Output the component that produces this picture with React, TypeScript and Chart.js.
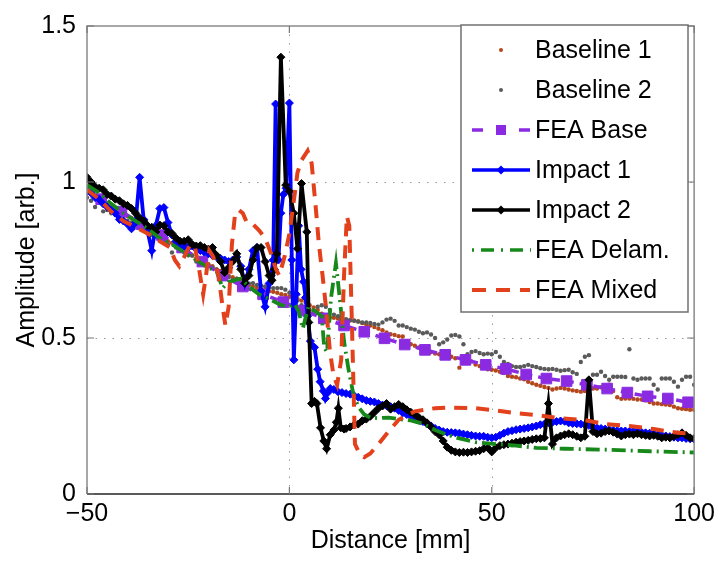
import React, { useEffect, useRef } from 'react';
import { Chart, registerables } from 'chart.js';

Chart.register(...registerables);

const FONT = '"Liberation Sans", Arial, Helvetica, sans-serif';
const FONT_SIZE = 25;

const xTicks = [-50, 0, 50, 100];
const yTicks = [0, 0.5, 1, 1.5];
const xGrid = [0, 50];
const yGrid = [0.5, 1];
const xTitle = 'Distance [mm]';
const yTitle = 'Amplitude [arb.]';

const seriesNames = ['Baseline 1', 'Baseline 2', 'FEA Base', 'Impact 1', 'Impact 2', 'FEA Delam.', 'FEA Mixed'];
const seriesColors = ['#b5471c', '#5a5a5a', '#8a2be2', '#0000ff', '#000000', '#17891a', '#e3401c'];

const baselineX = [
  -50, -49, -48, -47, -46, -45, -44, -43, -42, -41,
  -40, -39, -38, -37, -36, -35, -34, -33, -32, -31,
  -30, -29, -28, -27, -26, -25, -24, -23, -22, -21,
  -20, -19, -18, -17, -16, -15, -14, -13, -12, -11,
  -10, -9, -8, -7, -6, -5, -4, -3, -2, -1,
  0, 1, 2, 3, 4, 5, 6, 7, 8, 9,
  10, 11, 12, 13, 14, 15, 16, 17, 18, 19,
  20, 21, 22, 23, 24, 25, 26, 27, 28, 29,
  30, 31, 32, 33, 34, 35, 36, 37, 38, 39,
  40, 41, 42, 43, 44, 45, 46, 47, 48, 49,
  50, 51, 52, 53, 54, 55, 56, 57, 58, 59,
  60, 61, 62, 63, 64, 65, 66, 67, 68, 69,
  70, 71, 72, 73, 74, 75, 76, 77, 78, 79,
  80, 81, 82, 83, 84, 85, 86, 87, 88, 89,
  90, 91, 92, 93, 94, 95, 96, 97, 98, 99,
  100,
];

const baseline1Y = [
  0.97, 0.965, 0.955, 0.95, 0.94, 0.93, 0.925, 0.915, 0.905, 0.9,
  0.89, 0.885, 0.875, 0.87, 0.86, 0.85, 0.845, 0.835, 0.83, 0.82,
  0.81, 0.805, 0.795, 0.79, 0.78, 0.77, 0.765, 0.755, 0.75, 0.74,
  0.735, 0.73, 0.72, 0.715, 0.71, 0.7, 0.695, 0.69, 0.685, 0.675,
  0.67, 0.665, 0.66, 0.655, 0.655, 0.65, 0.648, 0.645, 0.64, 0.638,
  0.632, 0.628, 0.625, 0.62, 0.615, 0.605, 0.598, 0.59, 0.578, 0.572,
  0.565, 0.565, 0.562, 0.56, 0.558, 0.556, 0.556, 0.553, 0.548, 0.544,
  0.54, 0.535, 0.53, 0.525, 0.518, 0.512, 0.51, 0.506, 0.505, 0.49,
  0.48, 0.475, 0.47, 0.465, 0.46, 0.455, 0.45, 0.448, 0.448, 0.445,
  0.44, 0.435, 0.405, 0.43, 0.43, 0.425, 0.415, 0.41, 0.405, 0.4,
  0.398, 0.396, 0.392, 0.388, 0.378, 0.376, 0.374, 0.37, 0.368, 0.36,
  0.355, 0.35, 0.347, 0.343, 0.34, 0.335, 0.338, 0.34, 0.338, 0.335,
  0.332, 0.33, 0.328, 0.33, 0.335, 0.338, 0.338, 0.342, 0.346, 0.35,
  0.33, 0.31, 0.305, 0.306, 0.306, 0.305, 0.303, 0.303, 0.3, 0.295,
  0.29, 0.29, 0.288, 0.287, 0.285, 0.28, 0.275, 0.273, 0.272, 0.27,
  0.27,
];

const baseline2Y = [
  0.95, 0.94, 0.92, 0.935, 0.906, 0.91, 0.9, 0.895, 0.887, 0.88,
  0.875, 0.87, 0.86, 0.855, 0.845, 0.84, 0.83, 0.825, 0.82, 0.81,
  0.8, 0.774, 0.79, 0.78, 0.775, 0.765, 0.764, 0.745, 0.75, 0.74,
  0.735, 0.725, 0.72, 0.71, 0.7, 0.695, 0.685, 0.69, 0.68, 0.678,
  0.675, 0.676, 0.67, 0.668, 0.665, 0.662, 0.66, 0.66, 0.66, 0.655,
  0.645, 0.635, 0.62, 0.605, 0.595, 0.59, 0.587, 0.6, 0.605, 0.6,
  0.59, 0.575, 0.57, 0.565, 0.56, 0.558, 0.555, 0.553, 0.55, 0.55,
  0.548, 0.545, 0.543, 0.55, 0.559, 0.562, 0.555, 0.54, 0.54, 0.535,
  0.53, 0.527, 0.52, 0.515, 0.518, 0.511, 0.5, 0.48, 0.486, 0.495,
  0.508, 0.51, 0.505, 0.48, 0.448, 0.455, 0.458, 0.452, 0.448, 0.45,
  0.448, 0.455, 0.44, 0.423, 0.417, 0.41, 0.407, 0.407, 0.41, 0.414,
  0.41, 0.407, 0.403, 0.401, 0.4, 0.401, 0.398, 0.395, 0.397, 0.398,
  0.39, 0.385, 0.423, 0.44, 0.445, 0.382, 0.382, 0.392, 0.378, 0.366,
  0.376, 0.376, 0.376, 0.375, 0.464, 0.37, 0.366, 0.37, 0.37, 0.37,
  0.35, 0.335, 0.37, 0.37, 0.37, 0.36, 0.344, 0.366, 0.376, 0.376,
  0.35,
];

const feaBaseX = [
  -46.5, -41.5, -36.5, -31.5, -26.5, -21.5, -16.5, -11.5, -6.5, -1.5,
  3.5, 8.5, 13.5, 18.5, 23.5, 28.5, 33.5, 38.5, 43.5, 48.5,
  53.5, 58.5, 63.5, 68.5, 73.5, 78.5, 83.5, 88.5, 93.5, 98.5,
];
const feaBaseY = [
  0.945, 0.905, 0.865, 0.83, 0.79, 0.745, 0.7, 0.665, 0.64, 0.615,
  0.588, 0.563, 0.54, 0.52, 0.499, 0.479, 0.462, 0.446, 0.43, 0.414,
  0.401, 0.383, 0.37, 0.362, 0.35, 0.338, 0.325, 0.313, 0.306, 0.294,
];

const impact1X = [
  -50, -49, -48, -47, -46, -45, -44, -43, -42, -41,
  -40, -39, -38, -37, -36, -35, -34, -33, -32, -31,
  -30, -29, -28, -27, -26, -25, -24, -23, -22, -21,
  -20, -19, -18, -17, -16, -15, -14, -13, -12, -11,
  -10, -9, -8, -7, -6, -5,
  -4.5, -4, -3.4, -2.7, -2.1, -1.5, -0.8, 0, 0.6, 1.1,
  1.7, 2.3, 2.9, 3.5, 4, 4.5, 5.2, 6.2, 7, 7.6,
  8.4, 8.9, 9.5, 10.1, 11, 12, 13,
  14, 15, 16, 17, 18, 19, 20, 21, 22, 23,
  24, 25, 26, 27, 28, 29, 30, 31, 32, 33,
  34, 35, 36, 37, 38, 39, 40, 41, 42, 43,
  44, 45, 46, 47, 48, 49, 50, 51, 52, 53,
  54, 55, 56, 57, 58, 59, 60, 61, 62, 63,
  64, 65, 66, 67, 68, 69, 70, 71, 72, 73,
  74, 75, 76, 77, 78, 79, 80, 81, 82, 83,
  84, 85, 86, 87, 88, 89, 90, 91, 92, 93,
  94, 95, 96, 97, 98, 99, 100,
];
const impact1Y = [
  0.97, 0.965, 0.95, 0.945, 0.93, 0.92, 0.91, 0.9, 0.88, 0.875,
  0.865, 0.85, 0.87, 1.015, 0.88, 0.84, 0.78, 0.86, 0.915, 0.918,
  0.87, 0.83, 0.81, 0.8, 0.795, 0.79, 0.795, 0.785, 0.78, 0.775,
  0.77, 0.765, 0.76, 0.755, 0.75, 0.745, 0.75, 0.76, 0.73, 0.675,
  0.72, 0.78, 0.79, 0.65, 0.6, 0.675,
  0.7, 0.75, 1.25, 0.75, 0.9, 0.96, 0.98, 1.253, 0.75, 0.43,
  0.64, 0.86, 0.72, 0.68, 0.63, 0.57, 0.49, 0.47, 0.4, 0.36,
  0.33, 0.306, 0.325, 0.338, 0.335, 0.328, 0.325,
  0.322, 0.32, 0.315, 0.31, 0.305, 0.3, 0.297, 0.295, 0.29, 0.285,
  0.283, 0.28, 0.275, 0.268, 0.26, 0.255, 0.25, 0.245, 0.24, 0.232,
  0.225, 0.218, 0.21, 0.205, 0.2, 0.198, 0.197, 0.196, 0.195, 0.192,
  0.19, 0.188, 0.186, 0.185, 0.185, 0.182, 0.18, 0.182, 0.188, 0.195,
  0.2, 0.203, 0.206, 0.208, 0.21, 0.212, 0.215, 0.218, 0.222, 0.224,
  0.228, 0.23, 0.232, 0.234, 0.233, 0.228, 0.226, 0.225, 0.224, 0.222,
  0.22, 0.215, 0.212, 0.21, 0.208, 0.206, 0.204, 0.203, 0.202, 0.202,
  0.2, 0.202, 0.2, 0.198, 0.196, 0.195, 0.193, 0.19, 0.188, 0.186,
  0.184, 0.182, 0.18, 0.18, 0.178, 0.177, 0.176,
];

const impact2X = [
  -50, -49, -48, -47, -46, -45, -44, -43, -42, -41,
  -40, -39, -38, -37, -36, -35, -34, -33, -32, -31,
  -30, -29, -28, -27, -26, -25, -24, -23, -22, -21,
  -20, -19, -18, -17, -16, -15, -14, -13, -12, -11,
  -10, -9, -8, -7, -6, -5,
  -4.3, -3.7, -3.1, -2.1, -0.9, 0, 1.1, 2, 3, 4.3,
  4.8, 5.5, 6.2, 6.8, 7.7, 8.5, 9.2, 10.1, 11, 11.6,
  12.1, 12.7, 13.5,
  14, 15, 16, 17, 18, 19, 20, 21, 22, 23,
  24, 25, 26, 27, 28, 29, 30, 31, 32, 33,
  34, 35, 36, 37, 38, 39, 40, 41, 42, 43,
  44, 45, 46, 47, 48, 49, 50, 51, 52, 53,
  54, 55, 56, 57, 58, 59, 60, 61, 62, 63,
  64, 65, 66, 67, 68, 69, 70, 71, 72, 73,
  74, 75, 76, 77, 78, 79, 80, 81, 82, 83,
  84, 85, 86, 87, 88, 89, 90, 91, 92, 93,
  94, 95, 96, 97, 98, 99, 100,
];
const impact2Y = [
  1.015, 1.0, 0.985, 0.98, 0.975, 0.96, 0.955, 0.945, 0.94, 0.93,
  0.925, 0.915, 0.9, 0.885, 0.875, 0.86, 0.855, 0.84, 0.862, 0.86,
  0.84, 0.835, 0.82, 0.81, 0.81, 0.815, 0.8, 0.795, 0.796, 0.79,
  0.785, 0.79, 0.765, 0.745, 0.71, 0.725, 0.745, 0.77, 0.72, 0.676,
  0.7, 0.75, 0.79, 0.79, 0.745, 0.7,
  0.685, 0.72, 0.77, 1.4, 0.99, 0.97, 0.9, 0.786, 0.995, 0.84,
  0.55, 0.29, 0.297, 0.29, 0.212, 0.17, 0.145, 0.19, 0.205, 0.23,
  0.275, 0.212, 0.208,
  0.21, 0.215, 0.222, 0.224, 0.235, 0.24, 0.249, 0.262, 0.275, 0.282,
  0.29, 0.272, 0.28, 0.287, 0.28, 0.27, 0.262, 0.255, 0.245, 0.238,
  0.228, 0.215, 0.2, 0.19, 0.17, 0.15, 0.14, 0.135, 0.133, 0.134,
  0.133, 0.135, 0.137, 0.139, 0.145, 0.148, 0.135, 0.148, 0.155, 0.158,
  0.16, 0.163, 0.166, 0.168, 0.17, 0.172, 0.175, 0.177, 0.178, 0.18,
  0.29, 0.16, 0.18, 0.186, 0.19, 0.193, 0.19, 0.185, 0.18, 0.185,
  0.366, 0.2, 0.193, 0.195, 0.2, 0.202, 0.198, 0.192, 0.186, 0.19,
  0.192, 0.19, 0.193, 0.19, 0.188, 0.186, 0.188, 0.185, 0.18, 0.182,
  0.18, 0.185, 0.19, 0.196, 0.188, 0.18, 0.178,
];

const feaDelamX = [
  -50, -47, -44, -41, -38, -35, -32, -29, -26, -23,
  -20, -18, -16.5, -15, -12, -10, -7.5, -5, -2, 0,
  1.2, 2.3, 3.3, 4.7, 6.5, 8, 8.6, 9.3, 10.3, 11.5,
  12.5, 13.5, 14.6, 15.8, 17, 18.5, 20, 22, 24.5, 27,
  30, 33, 36, 39, 42, 46, 51, 56, 61, 68,
  78, 89, 100,
];
const feaDelamY = [
  0.99, 0.965, 0.93, 0.9, 0.875, 0.85, 0.82, 0.8, 0.775, 0.75,
  0.725, 0.715, 0.66, 0.68, 0.69, 0.665, 0.64, 0.625, 0.605, 0.6,
  0.61, 0.585, 0.53, 0.6, 0.585, 0.57, 0.47, 0.455, 0.63, 0.74,
  0.62, 0.49, 0.4, 0.32, 0.28, 0.255, 0.245, 0.243, 0.245, 0.24,
  0.236, 0.225, 0.205, 0.19, 0.178, 0.166, 0.16, 0.155, 0.148, 0.145,
  0.142, 0.137, 0.133,
];

const feaMixedX = [
  -50, -47, -44, -41, -38, -35, -32,
  -29.5, -28.3, -27.2, -26, -24.5, -23.3, -22.3, -21.3, -20.6, -19.8,
  -18.8, -17.5, -16.5, -15.8, -15, -14.2, -13.4, -12.5, -11.5, -10.5,
  -9, -7.5, -6, -4.5, -3.3, -2.5, -1.2, 0, 1, 2,
  3, 4.5, 5.5, 6.5, 7.3, 8.2, 9.2, 10, 10.9, 11.8,
  12.8, 13.5, 14.2, 14.8, 15.5, 16.2, 17.5, 18.5, 20, 22,
  24.5, 27, 31, 36, 40, 46, 51, 56, 61, 67,
  73, 78, 84, 90, 96, 100,
];
const feaMixedY = [
  0.975, 0.945, 0.905, 0.875, 0.855, 0.835, 0.81,
  0.79, 0.75, 0.73, 0.76, 0.8, 0.79, 0.72, 0.64, 0.7, 0.78,
  0.76, 0.7, 0.6, 0.54, 0.6, 0.8, 0.9, 0.91, 0.9, 0.87,
  0.865, 0.845, 0.82, 0.77, 0.72, 0.7, 0.76, 0.834, 0.93, 1.03,
  1.07, 1.1, 1.06, 0.92, 0.8, 0.7, 0.58, 0.46, 0.38, 0.35,
  0.43, 0.7, 0.89, 0.86, 0.52, 0.16, 0.125, 0.118, 0.13, 0.16,
  0.2, 0.238, 0.265, 0.275, 0.277, 0.275, 0.268, 0.259, 0.253, 0.243,
  0.237, 0.224, 0.218, 0.208, 0.196, 0.193,
];

const pts = (xs: number[], ys: number[]) => xs.map((x, i) => ({ x, y: ys[i] }));

const frameAndLegend = {
  id: 'frameAndLegend',
  beforeDatasetsDraw(chart: any) {
    const { ctx, chartArea: a, scales } = chart;
    const sx = scales.x;
    const sy = scales.y;
    ctx.save();
    ctx.strokeStyle = '#9a9a9a';
    ctx.lineWidth = 1;
    ctx.setLineDash([1.5, 7]);
    xGrid.forEach((v) => {
      const p = Math.round(sx.getPixelForValue(v)) + 0.5;
      ctx.beginPath();
      ctx.moveTo(p, a.top);
      ctx.lineTo(p, a.bottom);
      ctx.stroke();
    });
    yGrid.forEach((v) => {
      const p = Math.round(sy.getPixelForValue(v)) + 0.5;
      ctx.beginPath();
      ctx.moveTo(a.left, p);
      ctx.lineTo(a.right, p);
      ctx.stroke();
    });
    ctx.restore();
  },
  afterDatasetsDraw(chart: any) {
    const { ctx, chartArea: a, scales } = chart;
    const sx = scales.x;
    const sy = scales.y;
    ctx.save();
    ctx.setLineDash([]);
    ctx.lineWidth = 1.5;
    ctx.strokeStyle = '#8a8a8a';
    ctx.beginPath();
    ctx.moveTo(a.left, a.bottom);
    ctx.lineTo(a.left, a.top);
    ctx.lineTo(a.right, a.top);
    ctx.lineTo(a.right, a.bottom);
    ctx.stroke();
    ctx.strokeStyle = '#222222';
    ctx.beginPath();
    ctx.moveTo(a.left, a.bottom);
    ctx.lineTo(a.right, a.bottom);
    ctx.stroke();
    ctx.strokeStyle = '#777777';
    ctx.lineWidth = 1.2;
    const tl = 7;
    xTicks.forEach((v) => {
      const p = sx.getPixelForValue(v);
      ctx.beginPath();
      ctx.moveTo(p, a.bottom);
      ctx.lineTo(p, a.bottom - tl);
      ctx.moveTo(p, a.top);
      ctx.lineTo(p, a.top + tl);
      ctx.stroke();
    });
    yTicks.forEach((v) => {
      const p = sy.getPixelForValue(v);
      ctx.beginPath();
      ctx.moveTo(a.left, p);
      ctx.lineTo(a.left + tl, p);
      ctx.moveTo(a.right, p);
      ctx.lineTo(a.right - tl, p);
      ctx.stroke();
    });

    const L = { left: 461, top: 25, right: 688, bottom: 312 };
    ctx.fillStyle = '#ffffff';
    ctx.fillRect(L.left, L.top, L.right - L.left, L.bottom - L.top);
    ctx.strokeStyle = '#707070';
    ctx.lineWidth = 1.5;
    ctx.strokeRect(L.left, L.top, L.right - L.left, L.bottom - L.top);

    const x0 = 472;
    const x1 = 530;
    const xm = 501;
    const textX = 535;
    ctx.font = FONT_SIZE + 'px ' + FONT;
    ctx.textBaseline = 'middle';
    ctx.textAlign = 'left';
    seriesNames.forEach((name, i) => {
      const y = 50 + i * 40;
      const c = seriesColors[i];
      ctx.save();
      ctx.strokeStyle = c;
      ctx.fillStyle = c;
      if (i === 0 || i === 1) {
        ctx.beginPath();
        ctx.arc(xm, y, 2, 0, Math.PI * 2);
        ctx.fill();
      } else if (i === 2) {
        ctx.lineWidth = 3.5;
        ctx.beginPath();
        ctx.moveTo(x0, y);
        ctx.lineTo(x0 + 11, y);
        ctx.moveTo(x1 - 11, y);
        ctx.lineTo(x1, y);
        ctx.stroke();
        ctx.fillRect(xm - 5, y - 5, 10, 10);
      } else if (i === 3 || i === 4) {
        ctx.lineWidth = 3.5;
        ctx.beginPath();
        ctx.moveTo(x0, y);
        ctx.lineTo(x1, y);
        ctx.stroke();
        ctx.beginPath();
        ctx.moveTo(xm, y - 4.5);
        ctx.lineTo(xm + 4.5, y);
        ctx.lineTo(xm, y + 4.5);
        ctx.lineTo(xm - 4.5, y);
        ctx.closePath();
        ctx.fill();
      } else if (i === 5) {
        ctx.lineWidth = 3.5;
        ctx.setLineDash([2, 7, 13, 7]);
        ctx.beginPath();
        ctx.moveTo(x0, y);
        ctx.lineTo(x1 + 1, y);
        ctx.stroke();
      } else {
        ctx.lineWidth = 4;
        ctx.setLineDash([14, 10]);
        ctx.beginPath();
        ctx.moveTo(x0, y);
        ctx.lineTo(x1, y);
        ctx.stroke();
      }
      ctx.restore();
      ctx.fillStyle = '#000000';
      ctx.fillText(name, textX, y + 1);
    });
    ctx.restore();
  },
};

export default function App() {
  const ref = useRef<HTMLCanvasElement | null>(null);

  useEffect(() => {
    if (!ref.current) return;
    const chart = new Chart(ref.current, {
      type: 'scatter',
      data: {
        datasets: [
          {
            label: seriesNames[0],
            data: pts(baselineX, baseline1Y),
            showLine: false,
            pointRadius: 2.2,
            pointBorderWidth: 0,
            pointBackgroundColor: seriesColors[0],
            pointBorderColor: seriesColors[0],
            order: 6,
          },
          {
            label: seriesNames[1],
            data: pts(baselineX, baseline2Y),
            showLine: false,
            pointRadius: 2.2,
            pointBorderWidth: 0,
            pointBackgroundColor: seriesColors[1],
            pointBorderColor: seriesColors[1],
            order: 5,
          },
          {
            label: seriesNames[2],
            data: pts(feaBaseX, feaBaseY),
            showLine: true,
            borderColor: seriesColors[2],
            borderWidth: 3.5,
            borderDash: [8, 6],
            pointStyle: 'rect',
            pointRadius: 7.5,
            pointBorderWidth: 1,
            pointBackgroundColor: seriesColors[2],
            pointBorderColor: seriesColors[2],
            order: 4,
          },
          {
            label: seriesNames[3],
            data: pts(impact1X, impact1Y),
            showLine: true,
            borderColor: seriesColors[3],
            borderWidth: 3.8,
            pointStyle: 'rectRot',
            pointRadius: 4,
            pointBorderWidth: 1,
            pointBackgroundColor: seriesColors[3],
            pointBorderColor: seriesColors[3],
            order: 3,
          },
          {
            label: seriesNames[4],
            data: pts(impact2X, impact2Y),
            showLine: true,
            borderColor: seriesColors[4],
            borderWidth: 3.8,
            pointStyle: 'rectRot',
            pointRadius: 4,
            pointBorderWidth: 1,
            pointBackgroundColor: seriesColors[4],
            pointBorderColor: seriesColors[4],
            order: 2,
          },
          {
            label: seriesNames[5],
            data: pts(feaDelamX, feaDelamY),
            showLine: true,
            borderColor: seriesColors[5],
            borderWidth: 3.8,
            borderDash: [14, 5, 2, 5],
            pointRadius: 0,
            order: 1,
          },
          {
            label: seriesNames[6],
            data: pts(feaMixedX, feaMixedY),
            showLine: true,
            borderColor: seriesColors[6],
            borderWidth: 4,
            borderDash: [13, 9],
            pointRadius: 0,
            order: 0,
          },
        ],
      },
      options: {
        responsive: false,
        animation: false,
        devicePixelRatio: 1,
        layout: { padding: { left: 0, right: 22, top: 20, bottom: 0 } },
        plugins: {
          legend: { display: false },
          tooltip: { enabled: false },
        },
        scales: {
          x: {
            type: 'linear',
            min: -50,
            max: 100,
            grid: { display: false, drawTicks: false },
            border: { display: false },
            afterBuildTicks: (s: any) => {
              s.ticks = xTicks.map((v) => ({ value: v }));
            },
            afterFit: (s: any) => {
              s.height = 67;
            },
            ticks: {
              padding: 5,
              color: '#000',
              font: { family: FONT, size: FONT_SIZE },
              maxRotation: 0,
              autoSkip: false,
              callback: (v: any) => (Number(v) < 0 ? '\u2212' + Math.abs(Number(v)) : String(v)),
            },
            title: {
              display: true,
              text: xTitle,
              color: '#000',
              font: { family: FONT, size: FONT_SIZE },
              padding: { top: 0, bottom: 5 },
            },
          },
          y: {
            type: 'linear',
            min: 0,
            max: 1.5,
            grid: { display: false, drawTicks: false },
            border: { display: false },
            afterBuildTicks: (s: any) => {
              s.ticks = yTicks.map((v) => ({ value: v }));
            },
            afterFit: (s: any) => {
              s.width = 87;
            },
            ticks: {
              padding: 11,
              color: '#000',
              font: { family: FONT, size: FONT_SIZE },
              autoSkip: false,
              callback: (v: any) => String(v),
            },
            title: {
              display: true,
              text: yTitle,
              color: '#000',
              font: { family: FONT, size: FONT_SIZE },
              padding: { top: 12, bottom: 0 },
            },
          },
        },
      },
      plugins: [frameAndLegend],
    } as any);
    return () => chart.destroy();
  }, []);

  return (
    <div style={{ position: 'absolute', left: 0, top: 0, width: 720, height: 561, background: '#ffffff' }}>
      <canvas ref={ref} width={720} height={561} style={{ display: 'block' }} />
    </div>
  );
}
